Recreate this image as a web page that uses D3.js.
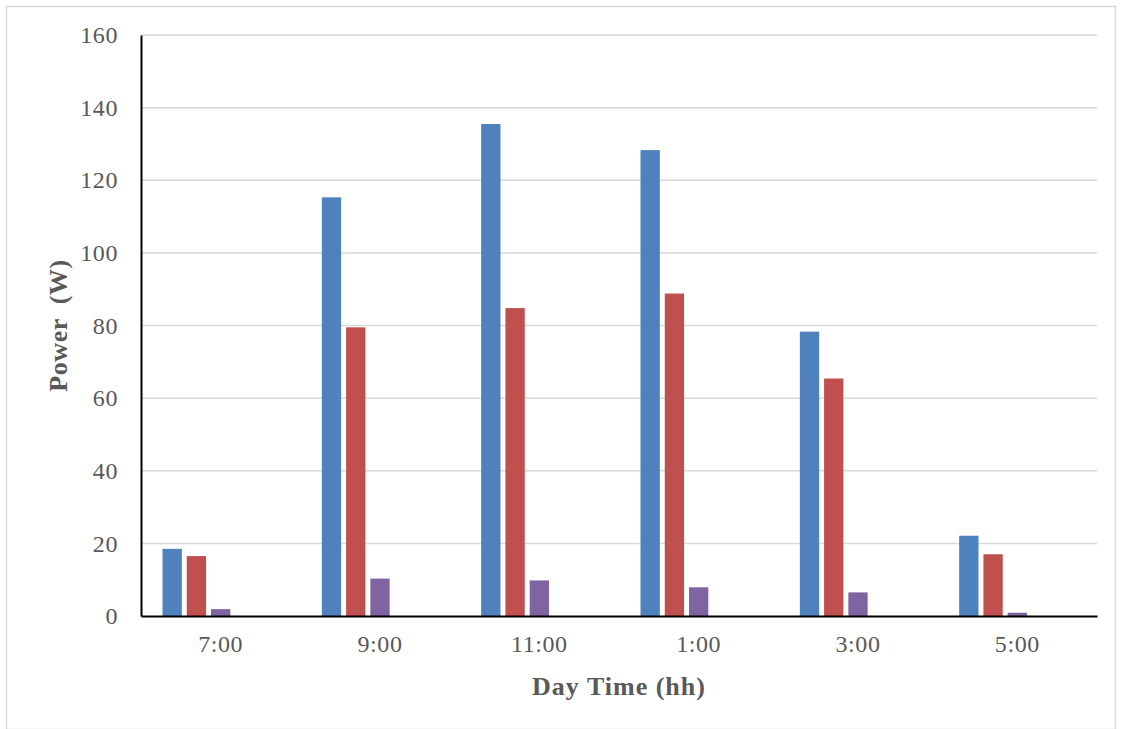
<!DOCTYPE html>
<html>
<head>
<meta charset="utf-8">
<script src="https://cdn.jsdelivr.net/npm/d3@7"></script>
<style>
  html, body { margin: 0; padding: 0; background: #fff; }
  svg { display: block; }
  text { font-family: "Liberation Serif", "DejaVu Serif", serif; }
</style>
</head>
<body>
<svg id="chart" width="1122" height="729"></svg>
<script>
const categories = ["7:00", "9:00", "11:00", "1:00", "3:00", "5:00"];
const seriesA = [18.5, 115.3, 135.5, 128.3, 78.3, 22.1];
const seriesB = [16.5, 79.5, 84.8, 88.8, 65.4, 17.0];
const seriesC = [1.9, 10.3, 9.8, 7.9, 6.5, 0.9];
const seriesColors = ["#4F81BD", "#C0504D", "#8064A2"];
const yTicks = [0, 20, 40, 60, 80, 100, 120, 140, 160];
const slotCount = 5; // chart reserves five series slots per category

const series = [seriesA, seriesB, seriesC];

const svg = d3.select("#chart");
const W = 1122, H = 729;
const m = { left: 141, right: 25, top: 35, bottom: 113 };

svg.append("rect")
  .attr("x", 6.5).attr("y", 6.5)
  .attr("width", W - 13).attr("height", H - 6)
  .attr("fill", "#fff").attr("stroke", "#d9d9d9").attr("stroke-width", 1.5);

const x0 = d3.scaleBand().domain(categories).range([m.left, W - m.right]).padding(0);
const gapHalf = x0.bandwidth() * 0.135;
const x1 = d3.scaleBand().domain(d3.range(slotCount))
  .range([gapHalf, x0.bandwidth() - gapHalf]).paddingInner(0.204).paddingOuter(0);
const y = d3.scaleLinear().domain([0, 160]).range([H - m.bottom, m.top]);

// gridlines
svg.append("g").selectAll("line").data(yTicks.filter(d => d > 0)).join("line")
  .attr("x1", m.left).attr("x2", W - m.right)
  .attr("y1", d => y(d)).attr("y2", d => y(d))
  .attr("stroke", "#d9d9d9").attr("stroke-width", 1.5);

// bars
const g = svg.append("g");
series.forEach((vals, si) => {
  g.selectAll(null).data(vals).join("rect")
    .attr("x", (d, i) => x0(categories[i]) + x1(si))
    .attr("width", x1.bandwidth())
    .attr("y", d => y(d))
    .attr("height", d => y(0) - y(d))
    .attr("fill", seriesColors[si]);
});

// y axis
const yAxis = d3.axisLeft(y).tickValues(yTicks).tickSize(0).tickPadding(23);
const yg = svg.append("g").attr("transform", `translate(${m.left},0)`).call(yAxis);
yg.select(".domain").attr("stroke", "#000").attr("stroke-width", 2);
yg.selectAll("text").attr("font-size", 24).attr("fill", "#595959")
  .attr("letter-spacing", 0.6)
  .attr("font-family", "Liberation Serif, serif");

// x axis
const xAxis = d3.axisBottom(x0).tickSize(0).tickPadding(19);
const xg = svg.append("g").attr("transform", `translate(0,${y(0)})`).call(xAxis);
xg.select(".domain").attr("stroke", "#000").attr("stroke-width", 2);
xg.selectAll("text").attr("font-size", 24).attr("fill", "#595959")
  .attr("letter-spacing", 0.6)
  .attr("font-family", "Liberation Serif, serif");

// axis titles
svg.append("text")
  .attr("x", (m.left + W - m.right) / 2).attr("y", 695)
  .attr("text-anchor", "middle").attr("font-size", 26).attr("font-weight", "bold")
  .attr("letter-spacing", 1)
  .attr("fill", "#595959").text("Day Time (hh)");

svg.append("text")
  .attr("transform", `translate(67,${(m.top + H - m.bottom) / 2}) rotate(-90)`)
  .attr("text-anchor", "middle").attr("font-size", 26).attr("font-weight", "bold")
  .attr("letter-spacing", 0.6)
  .attr("fill", "#595959").attr("xml:space", "preserve").style("white-space", "pre")
  .text("Power  (W)");
</script>
</body>
</html>
